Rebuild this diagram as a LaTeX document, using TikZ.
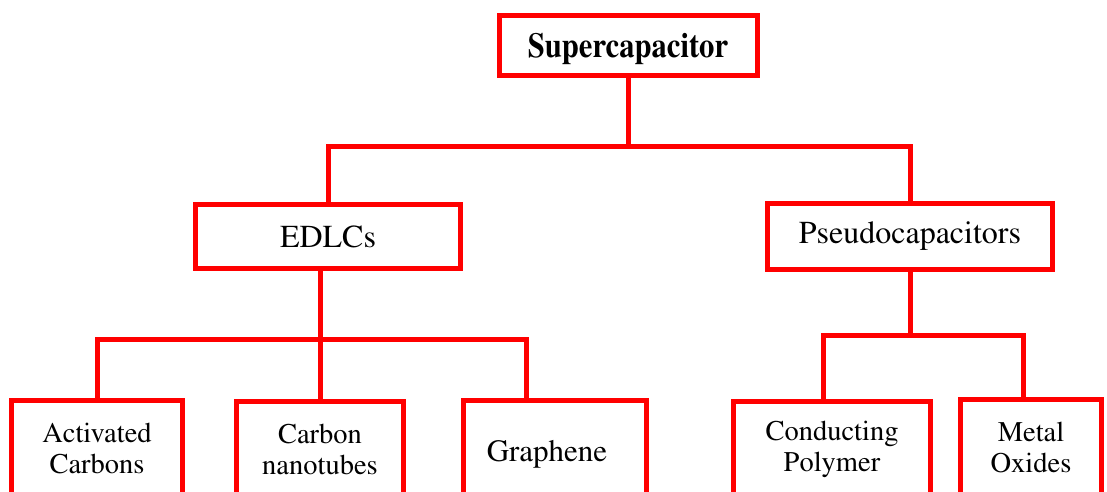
\documentclass[tikz,border=0pt]{standalone}
\usepackage[T1]{fontenc}
\renewcommand{\rmdefault}{ptm}
\usetikzlibrary{positioning, calc}
\definecolor{boxred}{HTML}{FF0000}

\begin{document}
\begin{tikzpicture}[x=1pt, y=-1pt,
  box/.style={draw=boxred, line width=5pt, fill=white, align=center, inner sep=0pt},
  bigtext/.style={font=\fontsize{32}{34}\selectfont},
  smalltext/.style={font=\fontsize{28.5}{31}\selectfont},
  link/.style={draw=boxred, line width=5pt}]
  \useasboundingbox (0,0) rectangle (1107,491);
  \clip (0,0) rectangle (1107,491);
  % Boxes
  \node[box, minimum width=258pt, minimum height=60pt, font=\fontsize{35}{37}\selectfont\bfseries] (super) at (628,45) {\raisebox{-12pt}[0pt][0pt]{\scalebox{0.875}[1]{Supercapacitor}}};
  \node[box, bigtext, minimum width=265pt, minimum height=64pt] (edlc) at (328,236.5) {EDLCs};
  \node[box, bigtext, minimum width=285pt, minimum height=66pt] (pseudo) at (910,236.5) {Pseudocapacitors};
  \node[box, smalltext, minimum width=171pt, minimum height=96pt] (act) at (97,448) {Activated\\Carbons};
  \node[box, smalltext, minimum width=167pt, minimum height=96pt] (cnt) at (320,449) {Carbon\\nanotubes};
  \node[box, font=\fontsize{31}{33}\selectfont, minimum width=183pt, minimum height=96pt] (gra) at (555,448) {\hspace*{-16pt}\raisebox{-13pt}[0pt][0pt]{Graphene}};
  \node[box, smalltext, minimum width=197pt, minimum height=96pt] (cp) at (832,449) {Conducting\\Polymer};
  \node[box, smalltext, minimum width=141pt, minimum height=96pt] (mo) at (1031,447) {Metal\\Oxides};
  % Stems off centre
  \coordinate (grastem) at ($(gra.north west)!0.35!(gra.north east)$);
  \coordinate (cpstem) at ($(cp.north west)!0.46!(cp.north east)$);
  \coordinate (mostem) at ($(mo.north west)!0.45!(mo.north east)$);
  % Links
  \draw[link] (super.south) -- ++(0,69) coordinate (topbar);
  \draw[link] (edlc.north) |- (topbar) -| (pseudo.north);
  \draw[link] (edlc.south -| cnt.north) -- (cnt.north);
  \draw[link] (act.north) |- ($(edlc.south)+(0,68.5)$) -| (grastem);
  \draw[link] (pseudo.south) -- ++(0,63.5) coordinate (pbar);
  \draw[link] (cpstem) |- (pbar) -| (mostem);
\end{tikzpicture}
\end{document}
